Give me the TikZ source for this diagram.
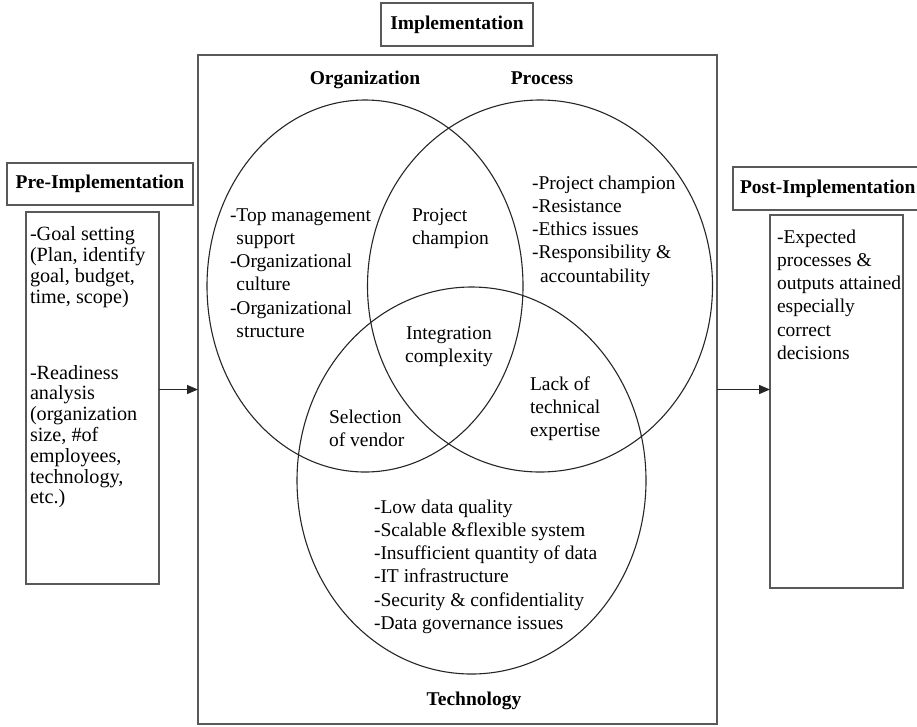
\documentclass[tikz,border=0pt]{standalone}
\usepackage{fontspec}
\setmainfont{Liberation Serif}
\usetikzlibrary{shapes.geometric,arrows.meta}
\begin{document}
\begin{tikzpicture}[x=1pt,y=-1pt,
  every node/.style={inner sep=0pt, outer sep=0pt},
  txt/.style={font=\fontsize{19.5}{23.3}\selectfont, align=left, anchor=north west},
  pretxt/.style={font=\fontsize{20.2}{20.8}\selectfont, align=left, anchor=north west},
  lbl/.style={font=\fontsize{19.5}{23.3}\selectfont\bfseries},
  boxed/.style={draw=black!65, line width=1.4pt},
  venn/.style={ellipse, draw=black!85, line width=1.1pt},
  arr/.style={draw=black!85, line width=1.3pt, -{Triangle[length=11pt,width=9pt]}}]
\useasboundingbox (0,0) rectangle (917,726);
\clip (0,0) rectangle (917,726);

% boxes
\node[boxed, lbl, minimum width=152pt, minimum height=43pt] (implbl) at (457,24.5) {Implementation};
\node[boxed, anchor=north west, minimum width=519pt, minimum height=669pt] (main) at (198,55) {};
\node[boxed, lbl, minimum width=186pt, minimum height=42pt] (prelbl) at (100,184) {Pre-Implementation};
\node[boxed, anchor=north west, minimum width=133pt, minimum height=372pt] (prebox) at (26,212) {};
\node[boxed, lbl, anchor=west, inner xsep=7pt, minimum height=43pt] (postlbl) at (733,188.5) {Post-Implementation};
\node[boxed, anchor=north west, minimum width=133pt, minimum height=373pt] (postbox) at (770,215) {};

% ellipses
\node[venn, minimum width=316pt, minimum height=372pt] (org) at (365,286) {};
\node[venn, minimum width=345pt, minimum height=372pt] (proc) at (540,286) {};
\node[venn, minimum width=349pt, minimum height=387pt] (tech) at (471.5,480.5) {};

% ellipse labels
\node[lbl, anchor=base] (orglbl) at (365,84) {Organization};
\node[lbl, anchor=base] (proclbl) at (542,84) {Process};
\node[lbl, anchor=base] (techlbl) at (474,705) {Technology};

% texts
\node[txt] (orgtxt) at (230,204.7) {\strut-Top management\\\phantom{-}support\\-Organizational\\\phantom{-}culture\\-Organizational\\\phantom{-}structure};
\node[txt] (champ) at (412,204.7) {\strut Project\\champion};
\node[txt, align=center, anchor=north] (integ) at (449,322.7) {\strut Integration\\complexity};
\node[txt] (select) at (329,406.7) {\strut Selection\\of vendor};
\node[txt] (lack) at (530,373.7) {\strut Lack of\\technical\\expertise};
\node[txt] (proctxt) at (532,172.7) {\strut-Project champion\\-Resistance\\-Ethics issues\\-Responsibility \&\\\hspace{8pt}accountability};
\node[txt] (techtxt) at (374,496.7) {\strut-Low data quality\\-Scalable \&flexible system\\-Insufficient quantity of data\\-IT infrastructure\\-Security \& confidentiality\\-Data governance issues};
\node[pretxt] (pretext) at (30,226.4) {\strut-Goal setting\\(Plan, identify\\goal, budget,\\time, scope)\\[55pt]-Readiness\\analysis\\(organization\\size, \#of\\employees,\\technology,\\etc.)};
\node[txt] (posttext) at (777,226.7) {\strut-Expected\\processes \&\\outputs attained\\especially\\correct\\decisions};

% arrows
\draw[arr] (main.west -| prebox.east) -- (main.west);
\draw[arr] (main.east) -- (main.east -| postbox.west);
\end{tikzpicture}
\end{document}
